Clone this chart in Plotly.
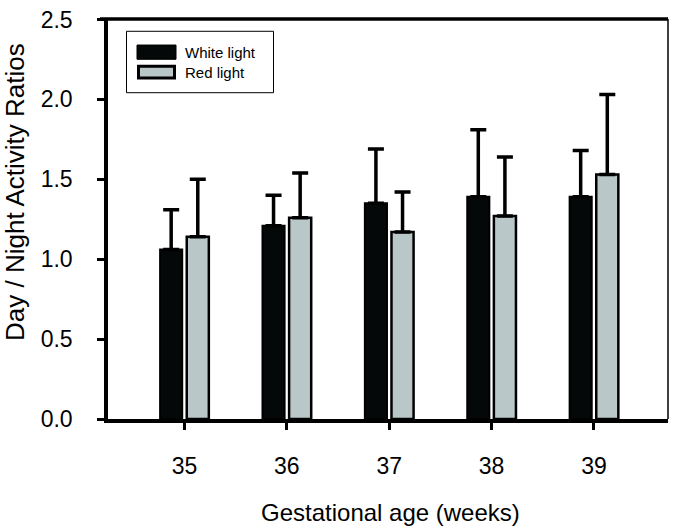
import plotly.graph_objects as go

weeks = [35, 36, 37, 38, 39]
white_mean = [1.06, 1.21, 1.35, 1.39, 1.39]
white_err = [0.25, 0.19, 0.34, 0.42, 0.29]
red_mean = [1.14, 1.26, 1.17, 1.27, 1.53]
red_err = [0.36, 0.28, 0.25, 0.37, 0.50]
series_names = ["White light", "Red light"]
y_ticks = [0.0, 0.5, 1.0, 1.5, 2.0, 2.5]
y_ticktext = ["0.0", "0.5", "1.0", "1.5", "2.0", "2.5"]

FONT = "Liberation Sans, Arial, sans-serif"
BLACK = "#050808"
GRAY = "#b9c7c8"

W, H = 675, 530
L, R, T, B = 108, 7, 12, 111
PW, PH = W - L - R, H - T - B


def px(x):
    return (x - L) / PW


def py(y):
    return (H - B - y) / PH


fig = go.Figure()
fig.add_trace(go.Bar(
    x=weeks, y=white_mean, name=series_names[0],
    marker=dict(color=BLACK, line=dict(color="black", width=2)),
    error_y=dict(type="data", array=white_err, arrayminus=[0] * len(weeks),
                 symmetric=False, color="black", thickness=3.5, width=8),
    showlegend=False,
))
fig.add_trace(go.Bar(
    x=weeks, y=red_mean, name=series_names[1],
    marker=dict(color=GRAY, line=dict(color="black", width=2.5)),
    error_y=dict(type="data", array=red_err, arrayminus=[0] * len(weeks),
                 symmetric=False, color="black", thickness=3.5, width=8),
    showlegend=False,
))

shapes = []
# top and right frame
shapes.append(dict(type="line", xref="paper", yref="paper", x0=px(100), x1=1, y0=1, y1=1,
                   line=dict(color="black", width=3.5)))
shapes.append(dict(type="line", xref="paper", yref="paper", x0=1, x1=1, y0=0, y1=1,
                   line=dict(color="black", width=1.5)))
# legend box
shapes.append(dict(type="rect", xref="paper", yref="paper",
                   x0=px(126.5), x1=px(273.5), y0=py(87), y1=py(24.5),
                   line=dict(color="black", width=1), fillcolor="white"))
shapes.append(dict(type="rect", xref="paper", yref="paper",
                   x0=px(137), x1=px(176), y0=py(53), y1=py(38.5),
                   line=dict(color="black", width=1), fillcolor=BLACK))
shapes.append(dict(type="rect", xref="paper", yref="paper",
                   x0=px(138.5), x1=px(174.5), y0=py(72), y1=py(60),
                   line=dict(color="black", width=3), fillcolor=GRAY))

annotations = [
    dict(text=series_names[0], xref="paper", yref="paper", x=px(183), y=py(46),
         xanchor="left", yanchor="middle", showarrow=False,
         font=dict(family=FONT, size=15, color="black")),
    dict(text=series_names[1], xref="paper", yref="paper", x=px(183), y=py(66),
         xanchor="left", yanchor="middle", showarrow=False,
         font=dict(family=FONT, size=15, color="black")),
    dict(text="Day / Night Activity Ratios", xref="paper", yref="paper",
         x=px(15), y=py(188), xanchor="center", yanchor="middle", textangle=-90,
         showarrow=False, font=dict(family=FONT, size=26, color="black")),
    dict(text="Gestational age (weeks)", xref="paper", yref="paper",
         x=px(390), y=py(514), xanchor="center", yanchor="middle",
         showarrow=False, font=dict(family=FONT, size=24, color="black")),
]

fig.update_layout(
    width=W, height=H,
    margin=dict(l=L, r=R, t=T, b=B, pad=0),
    paper_bgcolor="white", plot_bgcolor="white",
    barmode="group", bargap=0.48, bargroupgap=0.17,
    font=dict(family=FONT, color="black"),
    shapes=shapes, annotations=annotations,
    showlegend=False,
)
fig.update_xaxes(
    range=[34.253, 39.723], tickvals=weeks, ticktext=[str(w) for w in weeks],
    showline=True, linecolor="black", linewidth=3.5, mirror=False,
    ticks="outside", ticklen=7, tickwidth=2.5, tickcolor="black",
    ticklabelstandoff=17, ticklabeloverflow="allow",
    tickfont=dict(family=FONT, size=23, color="black"),
    showgrid=False, zeroline=False,
)
fig.update_yaxes(
    range=[0, 2.503], tickvals=y_ticks, ticktext=y_ticktext,
    showline=True, linecolor="black", linewidth=3.5, mirror=False,
    ticks="outside", ticklen=7, tickwidth=3, tickcolor="black",
    ticklabelstandoff=20, ticklabeloverflow="allow",
    tickfont=dict(family=FONT, size=23, color="black"),
    showgrid=False, zeroline=False,
)

fig.write_html(
    "out.html",
    config={"displayModeBar": False},
    post_script="document.body.style.margin='0';document.body.style.padding='0';",
)
